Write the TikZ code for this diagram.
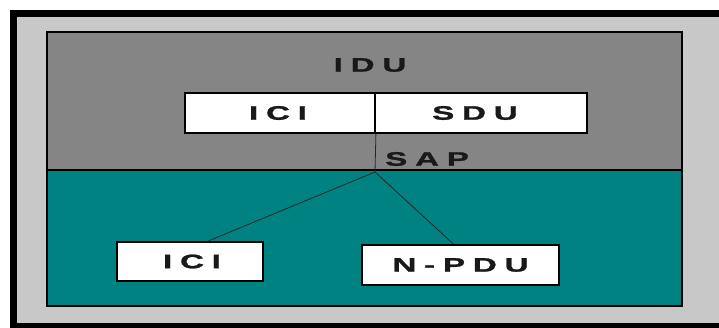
\documentclass[tikz,border=0pt]{standalone}
\usepackage{fontspec}
\newfontfamily\lbl{Liberation Sans Bold}[FakeStretch=1.7,LetterSpace=40,FakeBold=1.3]
\definecolor{bgl}{HTML}{C8C8C8}
\definecolor{idugray}{HTML}{858585}
\definecolor{tealc}{HTML}{008282}
\begin{document}
\begin{tikzpicture}[x=1pt,y=-1pt,
  lab/.style={font=\lbl\fontsize{19.5}{19.5}\selectfont, text=black!90, inner sep=0pt},
  wbox/.style={draw=black, line width=1.8pt, fill=white},
  conn/.style={draw=black!85, line width=0.8pt}]
\useasboundingbox (0,0) rectangle (719,328);
\fill[bgl] (17,17) rectangle (719,323);
\fill[black] (10,10) rectangle (719,17);
\fill[black] (10,10) rectangle (17,328);
\fill[black] (10,323) rectangle (719,328);
% upper (IDU) and lower layers
\node[draw=black, line width=1.8pt, fill=idugray, minimum width=635pt, minimum height=138pt, inner sep=0pt] (idu) at (364.5,101) {};
\node[draw=black, line width=1.8pt, fill=tealc, minimum width=635pt, minimum height=136pt, inner sep=0pt] (lower) at (364.5,238) {};
\node[lab] (idut) at (370,65) {IDU};
% ICI / SDU boxes
\node[wbox, minimum width=190pt, minimum height=40pt, inner sep=0pt] (ici1) at (280,113) {};
\node[wbox, minimum width=212pt, minimum height=40pt, inner sep=0pt] (sdu) at (481,113) {};
\node[lab] at ([xshift=-2pt]ici1.center) {ICI};
\node[lab] at ([xshift=-6pt]sdu.center) {SDU};
\coordinate (sap) at (375,172);
\node[lab, anchor=west] (sapt) at (385,159) {SAP};
\draw[conn] (ici1.south east) -- (sap);
% lower boxes
\node[wbox, minimum width=146pt, minimum height=39pt, inner sep=0pt] (ici2) at (190,261.5) {};
\node[wbox, minimum width=197pt, minimum height=40pt, inner sep=0pt] (npdu) at (460.5,265) {};
\node[lab] at ([xshift=2pt]ici2.center) {ICI};
\node[lab] at ([xshift=0pt]npdu.center) {N-PDU};
\draw[conn] (sap) -- ([xshift=18pt]ici2.north);
\draw[conn] (sap) -- ([xshift=-7pt]npdu.north);
\end{tikzpicture}
\end{document}
